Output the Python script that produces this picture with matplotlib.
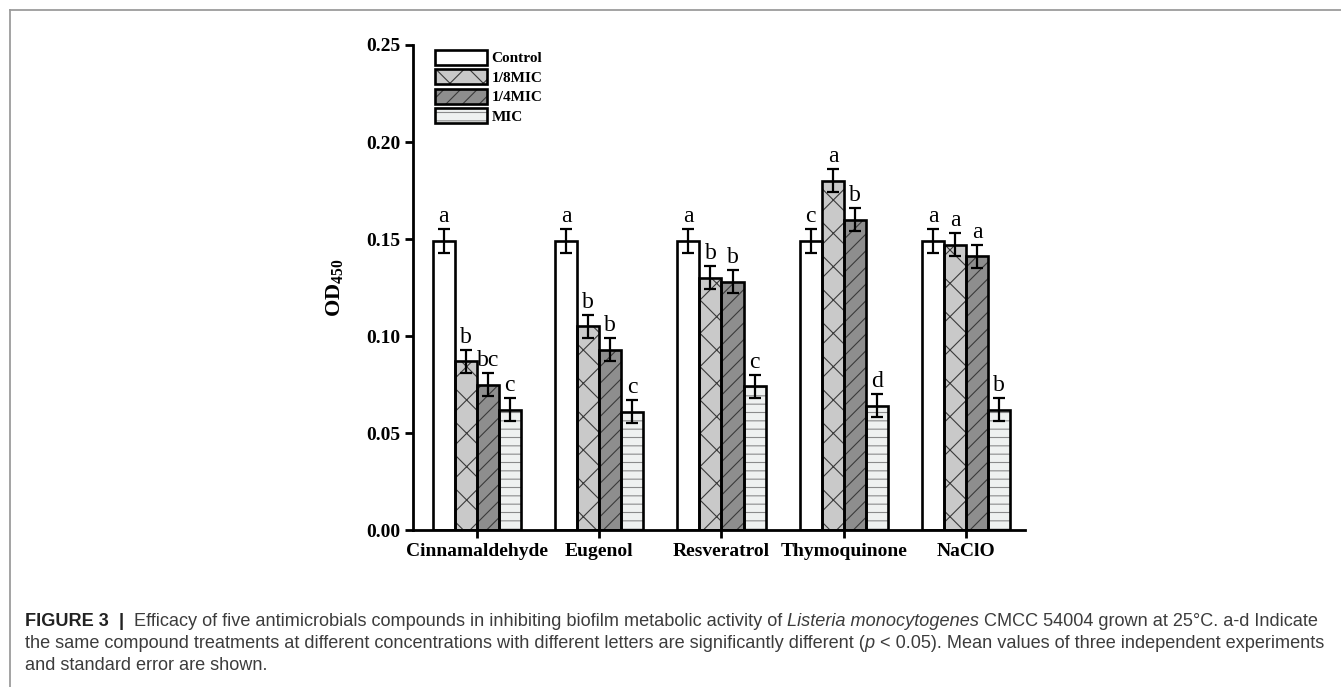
#!/usr/bin/env python3
"""Biofilm metabolic activity (OD450) of L. monocytogenes under five antimicrobials."""

import matplotlib

matplotlib.use("Agg")
import matplotlib.pyplot as plt
import numpy as np
from matplotlib.legend_handler import HandlerTuple
from matplotlib.lines import Line2D
from matplotlib.patches import Patch

COMPOUNDS = ["Cinnamaldehyde", "Eugenol", "Resveratrol", "Thymoquinone", "NaClO"]
TREATMENTS = ["Control", "1/8MIC", "1/4MIC", "MIC"]

CONTROL = [0.149, 0.149, 0.149, 0.149, 0.149]
EIGHTH_MIC = [0.087, 0.105, 0.130, 0.180, 0.147]
QUARTER_MIC = [0.075, 0.093, 0.128, 0.160, 0.141]
FULL_MIC = [0.062, 0.061, 0.074, 0.064, 0.062]

CONTROL_SE = [0.006, 0.006, 0.006, 0.006, 0.006]
EIGHTH_SE = [0.006, 0.006, 0.006, 0.006, 0.006]
QUARTER_SE = [0.006, 0.006, 0.006, 0.006, 0.006]
FULL_SE = [0.006, 0.006, 0.006, 0.006, 0.006]

CONTROL_LETTERS = ["a", "a", "a", "c", "a"]
EIGHTH_LETTERS = ["b", "b", "b", "a", "a"]
QUARTER_LETTERS = ["bc", "b", "b", "b", "a"]
FULL_LETTERS = ["c", "c", "c", "d", "b"]

Y_TICKS = [0.00, 0.05, 0.10, 0.15, 0.20, 0.25]

# (fill, hatch, hatch colour) for each treatment
STYLES = [
    ("white", "", "black"),
    ("#c9c9c9", "x", "#3a3a3a"),
    ("#8e8e8e", "//", "#3a3a3a"),
    ("#eff1f0", "--", "#8a8a8a"),
]

SERIF = "Liberation Serif"
SANS = "Liberation Sans"
EDGE_LW = 1.9

CAPTION = [
    [("FIGURE 3", "bold"), ("  |  ", "bold"),
     ("Efficacy of five antimicrobials compounds in inhibiting biofilm "
      "metabolic activity of ", "regular"),
     ("Listeria monocytogenes", "italic"),
     (" CMCC 54004 grown at 25°C. a-d Indicate", "regular")],
    [("the same compound treatments at different concentrations with "
      "different letters are significantly different (", "regular"),
     ("p", "italic"),
     (" < 0.05). Mean values of three independent experiments", "regular")],
    [("and standard error are shown.", "regular")],
]

plt.rcParams["hatch.linewidth"] = 0.8
plt.rcParams["mathtext.fontset"] = "custom"
plt.rcParams["mathtext.bf"] = SERIF + ":bold"
plt.rcParams["mathtext.rm"] = SERIF

W, H = 1341, 687
fig = plt.figure(figsize=(W / 100, H / 100), dpi=100)
ax = fig.add_axes([0.308, 0.2285, 0.4564, 0.706])

values = [CONTROL, EIGHTH_MIC, QUARTER_MIC, FULL_MIC]
errors = [CONTROL_SE, EIGHTH_SE, QUARTER_SE, FULL_SE]
letters = [CONTROL_LETTERS, EIGHTH_LETTERS, QUARTER_LETTERS, FULL_LETTERS]

x = np.arange(len(COMPOUNDS))
width = 0.18
handles = []
for i, (vals, errs, lets, (fill, hatch, hcol)) in enumerate(
    zip(values, errors, letters, STYLES)
):
    pos = x + (i - 1.5) * width
    # hatch layer first, outline on top so hatch colour stays independent
    ax.bar(pos, vals, width, color=fill, hatch=hatch, edgecolor=hcol,
           linewidth=0, zorder=2)
    ax.bar(pos, vals, width, fill=False, edgecolor="black",
           linewidth=EDGE_LW, zorder=3)
    ax.errorbar(pos, vals, yerr=errs, fmt="none", ecolor="black",
                elinewidth=1.6, capsize=4.2, capthick=1.6, zorder=4)
    for px, v, e, t in zip(pos, vals, errs, lets):
        ax.annotate(t, (px, v + e), xytext=(0, 1.5), textcoords="offset points",
                    ha="center", va="bottom", fontsize=17, family=SERIF)
    handles.append((
        Patch(facecolor=fill, hatch=hatch, edgecolor=hcol, linewidth=0),
        Patch(fill=False, edgecolor="black", linewidth=EDGE_LW),
    ))

ax.set_xlim(-0.52, 4.48)
ax.set_ylim(0, 0.25)
ax.set_yticks(Y_TICKS)
ax.set_yticklabels(["%.2f" % t for t in Y_TICKS])
ax.set_xticks(x)
ax.set_xticklabels(COMPOUNDS)
for label in ax.get_xticklabels() + ax.get_yticklabels():
    label.set_fontfamily(SERIF)
    label.set_fontweight("bold")
    label.set_fontsize(14)

for side in ("top", "right"):
    ax.spines[side].set_visible(False)
for side in ("left", "bottom"):
    ax.spines[side].set_linewidth(2.0)
ax.tick_params(axis="both", direction="out", length=6, width=2.0, pad=3)

ax.set_ylabel(r"$\mathbf{OD}_{\mathbf{450}}$", fontsize=16)
ax.yaxis.set_label_coords(-0.11, 0.5)

ax.legend(
    handles, TREATMENTS,
    handler_map={tuple: HandlerTuple(ndivide=1)},
    loc="upper left", bbox_to_anchor=(0.036, 0.99), borderaxespad=0,
    borderpad=0, frameon=False, handlelength=3.4, handleheight=1.1,
    labelspacing=0.26, handletextpad=0.3,
    prop={"family": SERIF, "weight": "bold", "size": 11},
)

# thin gray frame around the figure panel
fig.add_artist(Line2D([9.5 / W, 1.0], [1 - 9.5 / H] * 2,
                      transform=fig.transFigure, color="#9c9c9c", lw=1.3))
fig.add_artist(Line2D([9.5 / W] * 2, [0.0, 1 - 9.5 / H],
                      transform=fig.transFigure, color="#9c9c9c", lw=1.3))

# caption: runs of differently styled text laid end to end on each line
renderer = fig.canvas.get_renderer()
for pieces, yb in zip(CAPTION, [626, 648, 670]):
    xpix = 25.0
    for text, style in pieces:
        kw = dict(fontsize=13.1, family=SANS, color="#3c3c3c", va="baseline",
                  ha="left")
        if style == "bold":
            kw.update(weight="bold", color="#222222")
        elif style == "italic":
            kw.update(style="italic")
        t = fig.text(xpix / W, 1 - yb / H, text, **kw)
        xpix += t.get_window_extent(renderer).width

fig.savefig("out.png", dpi=100)
